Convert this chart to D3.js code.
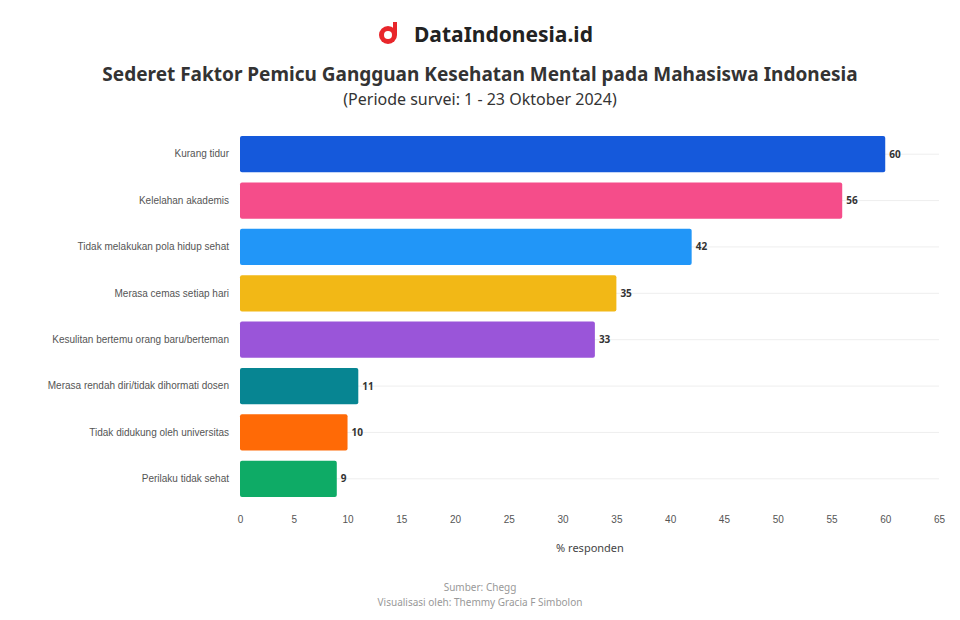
<!DOCTYPE html>
<html>
<head>
<meta charset="utf-8">
<script src="https://cdn.jsdelivr.net/npm/d3@7"></script>
<style>
  body { margin: 0; background: #fff; font-family: "Source Sans Pro", "Noto Sans", sans-serif; }
  .tick text { fill: #555; font-size: 10px; }
</style>
</head>
<body>
<svg id="chart" width="960" height="620"></svg>
<script>
var categories = ["Kurang tidur", "Kelelahan akademis", "Tidak melakukan pola hidup sehat", "Merasa cemas setiap hari",
  "Kesulitan bertemu orang baru/berteman", "Merasa rendah diri/tidak dihormati dosen", "Tidak didukung oleh universitas", "Perilaku tidak sehat"];
var values = [60, 56, 42, 35, 33, 11, 10, 9];
var colors = ["#1559db", "#f54d8a", "#2196f8", "#f2b816", "#9a55d9", "#078592", "#ff6a06", "#0eab66"];
var xTicks = [0, 5, 10, 15, 20, 25, 30, 35, 40, 45, 50, 55, 60, 65];

var svg = d3.select("#chart");
var plotLeft = 240, plotRight = 939, plotTop = 131, plotBottom = 502;

var x = d3.scaleLinear().domain([0, 65]).range([plotLeft, plotRight]);
var y = d3.scaleBand().domain(categories).range([plotTop, plotBottom]).paddingInner(0.22).paddingOuter(0.11);

// header
var logo = svg.append("g").attr("transform", "translate(388,35)");
logo.append("circle").attr("r", 9).attr("fill", "#e8262b");
logo.append("circle").attr("r", 4).attr("fill", "#fff");
logo.append("rect").attr("x", 5).attr("y", -13).attr("width", 4).attr("height", 13).attr("fill", "#e8262b");
svg.append("text").attr("x", 414).attr("y", 42).attr("font-size", 21).attr("font-weight", 700)
  .attr("fill", "#222").text("DataIndonesia.id");
svg.append("text").attr("x", 480).attr("y", 81).attr("text-anchor", "middle").attr("font-size", 19)
  .attr("font-weight", 700).attr("fill", "#333").text("Sederet Faktor Pemicu Gangguan Kesehatan Mental pada Mahasiswa Indonesia");
svg.append("text").attr("x", 480).attr("y", 105).attr("text-anchor", "middle").attr("font-size", 16)
  .attr("fill", "#333").text("(Periode survei: 1 - 23 Oktober 2024)");

// grid
svg.append("g").selectAll("line").data(categories).join("line")
  .attr("x1", plotLeft).attr("x2", plotRight)
  .attr("y1", d => y(d) + y.bandwidth() / 2).attr("y2", d => y(d) + y.bandwidth() / 2)
  .attr("stroke", "#eee");

svg.selectAll(".bar").data(values).join("rect")
  .attr("class", "bar")
  .attr("x", x(0))
  .attr("y", (d, i) => y(categories[i]))
  .attr("width", d => x(d) - x(0))
  .attr("height", y.bandwidth())
  .attr("rx", 2)
  .attr("fill", (d, i) => colors[i]);

svg.selectAll(".val").data(values).join("text")
  .attr("class", "val")
  .attr("x", d => x(d) + 4)
  .attr("y", (d, i) => y(categories[i]) + y.bandwidth() / 2 + 3.5)
  .attr("font-size", 10).attr("font-weight", 700).attr("fill", "#333")
  .text(d => d);

var ya = svg.append("g").attr("transform", "translate(" + (plotLeft - 8) + ",0)")
  .call(d3.axisLeft(y).tickSize(0));
ya.select(".domain").remove();

var xa = svg.append("g").attr("transform", "translate(0," + plotBottom + ")")
  .call(d3.axisBottom(x).tickValues(xTicks).tickSize(0).tickPadding(14));
xa.select(".domain").remove();

svg.append("text").attr("x", 590).attr("y", 552).attr("text-anchor", "middle")
  .attr("font-size", 11).attr("fill", "#444").text("% responden");

svg.append("text").attr("x", 480).attr("y", 591).attr("text-anchor", "middle")
  .attr("font-size", 10).attr("fill", "#999").text("Sumber: Chegg");
svg.append("text").attr("x", 480).attr("y", 606).attr("text-anchor", "middle")
  .attr("font-size", 10).attr("fill", "#999").text("Visualisasi oleh: Themmy Gracia F Simbolon");
</script>
</body>
</html>
